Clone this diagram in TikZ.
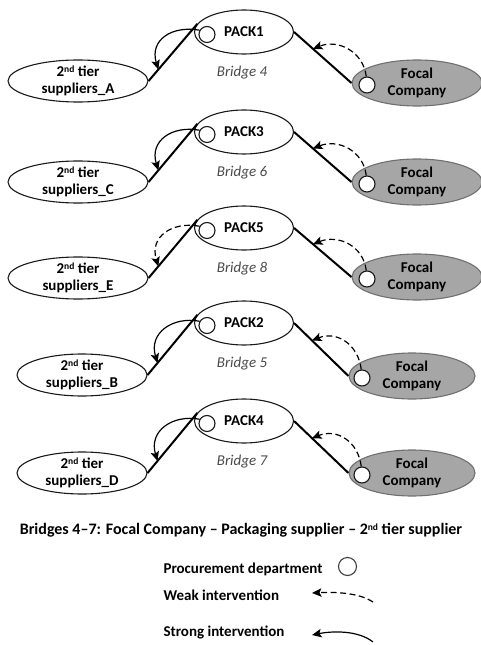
\documentclass[tikz,border=0pt]{standalone}
\usepackage{fontspec}
\setmainfont{Carlito}
\usetikzlibrary{arrows.meta,calc,shapes.geometric}
\definecolor{focalfill}{HTML}{A6A6A6}
\definecolor{focalline}{HTML}{707070}
\definecolor{bridgegray}{HTML}{4A4A4A}
\newcommand{\supx}[1]{\raisebox{0.55ex}{\fontsize{9.5bp}{9.5bp}\selectfont #1}}
\begin{document}
\begin{tikzpicture}[x=1bp,y=-1bp,
  every node/.style={font=\fontsize{15bp}{16.5bp}\selectfont\bfseries},
  oval/.style={ellipse, draw=black!90, line width=1.1bp, inner sep=0pt, align=center},
  packnode/.style={oval, minimum width=99bp, minimum height=44bp},
  suppnode/.style={oval, minimum height=42bp, fill=white},
  focalnode/.style={oval, draw=focalline, fill=focalfill, minimum height=46bp},
  bridgelbl/.style={font=\fontsize{15bp}{16.5bp}\selectfont\itshape, text=bridgegray},
  procnode/.style={circle, draw=black!90, fill=white, line width=1.1bp, inner sep=0pt, minimum size=16bp},
  linkline/.style={line width=2bp, black},
  tipstyle/.style={-{Stealth[length=9.5bp,width=8.5bp,inset=2bp]}},
  strongarr/.style={tipstyle, line width=1.2bp},
  weakarr/.style={tipstyle, line width=1.2bp, dash pattern=on 6bp off 3.5bp},
  legendlbl/.style={anchor=west}
]
\useasboundingbox (0,0) rectangle (481,645);

\foreach \k/\pk/\sl/\br/\py/\ly/\fy/\lx/\lrx/\fx/\frx/\ls in {
 1/1/A/4/32/81/83/78/70/417/65/strongarr,
 2/3/C/6/132/182/182/78/70/417/65/strongarr,
 3/5/E/8/228/278/277/78/70/417/65/weakarr,
 4/2/B/5/323/375/376/82/65/412/63/strongarr,
 5/4/D/7/421/473/473/82/65/412/63/strongarr}{
 \node[packnode] (P\k) at (244,\py) {PACK\pk};
 \node[suppnode, minimum width=2*\lrx*1bp] (L\k) at (\lx,\ly) {2\supx{nd} tier\\suppliers\_\sl};
 \node[focalnode, minimum width=2*\frx*1bp] (F\k) at (\fx,\fy) {Focal\\Company};
 \node[bridgelbl] (B\k) at (242,\py+41) {Bridge \br};
 \draw[linkline] (L\k.east) -- (P\k.170);
 \draw[linkline] (P\k.east) -- (F\k.west);
 \node[procnode] (pc\k) at (207,\py+2.5) {};
 \node[procnode] (fc\k) at (\fx-50,\fy+2) {};
 \coordinate (ts\k) at ($(L\k.east)!0.2!(P\k.170)$);
 \coordinate (tw\k) at ($(P\k.east)!0.33!(F\k.west)$);
 \draw[\ls] (pc\k.150) .. controls ($(pc\k.150)+(-27,-5)$) and ($(ts\k)+(-9,-30)$) .. (ts\k);
 \draw[weakarr] (fc\k.95) .. controls ($(fc\k.95)+(-3,-25)$) and ($(tw\k)+(25,-10)$) .. (tw\k);
}

\node[font=\fontsize{16bp}{18bp}\selectfont\bfseries] (cap) at (241,530) {Bridges 4--7: Focal Company -- Packaging supplier -- 2\supx{nd} tier supplier};

\node[legendlbl] (lg1) at (160,569) {Procurement department};
\node[procnode, draw=black!75, minimum size=18bp] (lc) at (347.5,566.5) {};
\node[legendlbl] (lg2) at (160,595) {Weak intervention};
\coordinate (w1) at (373,602);
\coordinate (w2) at (312,593);
\draw[weakarr] (w1) .. controls ($(w1)+(-15,-10)$) and ($(w2)+(20,-1)$) .. (w2);
\node[legendlbl] (lg3) at (160,632) {Strong intervention};
\coordinate (s1) at (373,642);
\coordinate (s2) at (312,635);
\draw[strongarr] (s1) .. controls ($(s1)+(-15,-12)$) and ($(s2)+(20,-4)$) .. (s2);
\end{tikzpicture}
\end{document}
